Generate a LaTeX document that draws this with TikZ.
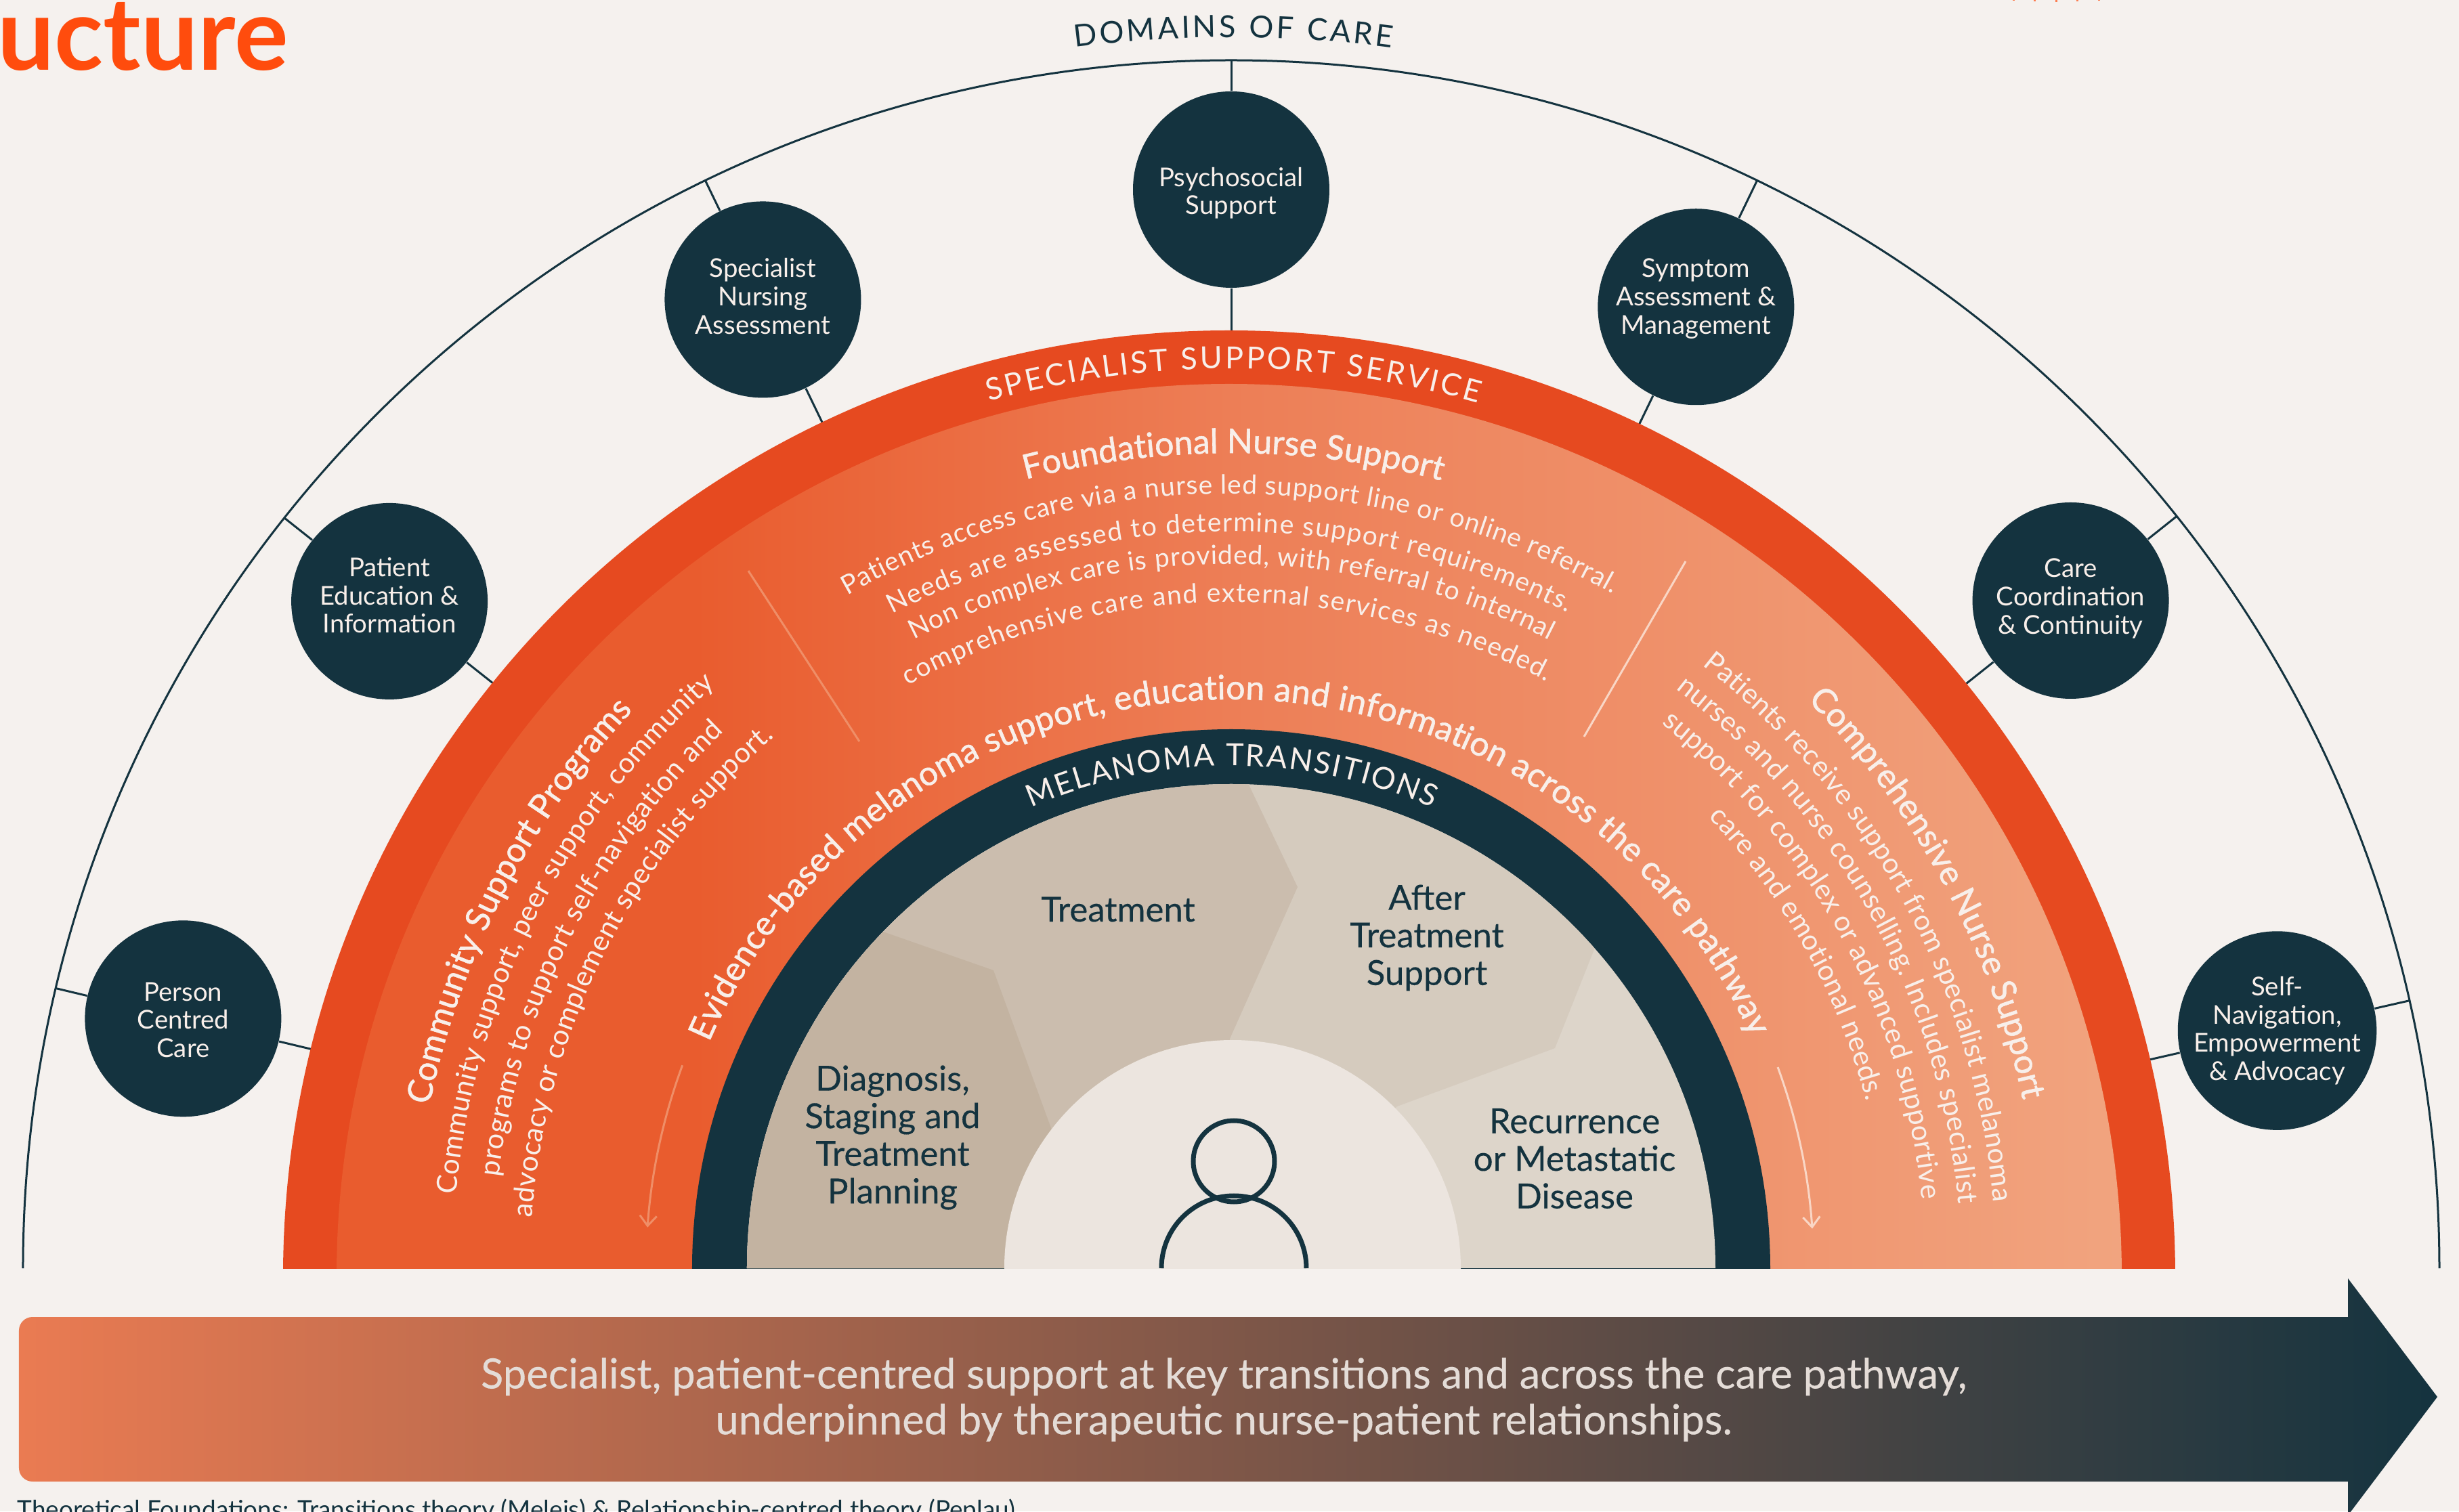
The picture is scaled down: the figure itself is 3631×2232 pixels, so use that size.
\documentclass[tikz,border=0pt]{standalone}
\usepackage{fontspec}
\setmainfont{Lato}
\newfontfamily\mediumfont[FakeBold=0.25]{Lato}
\newfontfamily\strongfont[FakeBold=1.2]{Lato}
\usetikzlibrary{arrows.meta,decorations.text}

\definecolor{paper}{HTML}{F5F1EE}
\definecolor{darkteal}{HTML}{14333F}
\definecolor{ringorange}{HTML}{E64A20}
\definecolor{bandleft}{HTML}{E95C2E}
\definecolor{bandmid}{HTML}{ED7E56}
\definecolor{bandright}{HTML}{F1A47F}
\definecolor{arrowleft}{HTML}{EA7B52}
\definecolor{arrowmid}{HTML}{AE674F}
\definecolor{titleorange}{HTML}{FF4C0D}
\definecolor{diagnosis}{HTML}{C3B3A1}
\definecolor{treatment}{HTML}{CBBDAE}
\definecolor{after}{HTML}{D5CBBE}
\definecolor{recurrence}{HTML}{DDD5CA}
\definecolor{person}{HTML}{ECE5DF}
\definecolor{lighttext}{HTML}{F8EFEA}

\pgfdeclarehorizontalshading{bandshade}{100bp}{color(0bp)=(bandleft); color(35bp)=(bandleft); color(50bp)=(bandmid); color(75bp)=(bandright); color(100bp)=(bandright)}

\tikzset{
  x=0.1mm, y=0.1mm,
  domainnode/.style={circle, fill=darkteal, text=lighttext, minimum size=29mm, inner sep=0pt,
    align=center, font=\fontsize{10.9}{11.9}\selectfont},
  ticklink/.style={draw=darkteal, line width=0.3mm},
  stagelabel/.style={text=darkteal, inner sep=0pt, align=center,
    font=\mediumfont\fontsize{14.5}{15.8}\selectfont},
  arcline/.style={decorate, decoration={text along path, text align={fit to path}, text color=lighttext}},
  darcline/.style={decorate, decoration={text along path, text align={fit to path}, text color=darkteal}},
  dividerline/.style={line width=0.3mm},
  flowarrow/.style={line width=0.3mm, -{Straight Barb[length=1.5mm,width=2.5mm]}},
}

% radius, start angle, end angle, font, text
\newcommand{\arcline}[5]{\path[arcline, decoration={text={|#4|#5}}] (#2:#1) arc[start angle=#2, end angle=#3, radius=#1];}
\newcommand{\dropline}[1]{\rule[-#1]{0pt}{#1}}
\newcommand{\capsfont}{\fontsize{12.8}{14}\selectfont}
\newcommand{\headfont}{\strongfont\fontsize{14.2}{16}\selectfont}
\newcommand{\smallfont}{\fontsize{11.1}{12}\selectfont}
\newcommand{\sidefont}{\fontsize{11.8}{12}\selectfont}

\begin{document}
\begin{tikzpicture}
  \useasboundingbox (-1818,-359) rectangle (1813,1873);
  \clip (-1818,-359) rectangle (1813,1873);
  \fill[paper] (-1818,-359) rectangle (1813,1873);

  \node[anchor=base west, inner sep=0pt, text=titleorange, font=\bfseries\fontsize{42.5}{44}\selectfont] (title) at (-1822,1769) {ucture};
  \foreach \dotx/\doth in {1154/1, 1185/2, 1217/3, 1248/2, 1280/1}
    \fill[titleorange!70!paper] (\dotx,1873) rectangle +(3,-\doth);

  \draw[darkteal, line width=0.3mm] (180:1784) arc[start angle=180, end angle=0, radius=1784];
  \path[darcline, decoration={text={|\capsfont|DOMAINS OF CARE}}] (97.3:1818) arc[start angle=97.3, end angle=82.5, radius=1818];

  \node[domainnode] (person) at (166.6:1591) {\rule{0pt}{9pt}Person\\Centred\\Care};
  \node[domainnode] (education) at (141.6:1586) {Patient\\Education \&\\Information\dropline{5pt}};
  \node[domainnode] (nursing) at (115.8:1589) {Specialist\\Nursing\\Assessment\dropline{3pt}};
  \node[domainnode] (psychosocial) at (90:1593) {\rule{0pt}{11pt}Psychosocial\\Support};
  \node[domainnode] (symptom) at (64.2:1577) {Symptom\\Assessment \&\\Management\dropline{9pt}};
  \node[domainnode] (coordination) at (38.5:1584) {Care\\Coordination\\\& Continuity\dropline{3.5pt}};
  \node[domainnode] (navigation) at (12.8:1584) {Self-\\Navigation,\\Empowerment\\\& Advocacy};

  \foreach \domainname/\domainangle in {person/166.6, education/141.6, nursing/115.8, psychosocial/90, symptom/64.2, coordination/38.5, navigation/12.8} {
    \coordinate (outer-\domainname) at (\domainangle:1784);
    \coordinate (inner-\domainname) at (\domainangle:1340);
    \draw[ticklink] (outer-\domainname) -- (\domainname);
    \draw[ticklink] (\domainname) -- (inner-\domainname);
  }

  \begin{scope}
    \clip (-1818,0) rectangle (1813,1873);
    \fill[ringorange] (-3,-12) circle[radius=1397];
    \shade[shading=bandshade] (-3,-12) circle[radius=1318];
    \fill[darkteal] (0,0) circle[radius=796];
    \clip (0,0) circle[radius=715];
    \fill[recurrence] (-800,0) rectangle (800,800);
    \fill[after] (-800,0) -- (-800,800) -- (667,800) -- (478,325) -- (245,239) -- (100,100) -- (100,0) -- cycle;
    \fill[treatment] (-800,0) -- (-800,800) -- (-15,800) -- (98,563) -- (-2,339) -- (-60,0) -- cycle;
    \fill[diagnosis] (-800,0) -- (-800,597) -- (-351,440) -- (-266,207) -- (-200,0) -- cycle;
    \fill[person] (2,0) circle[radius=337];
    \draw[darkteal, line width=0.7mm] (4,158) circle[radius=60];
    \draw[darkteal, line width=0.7mm] (-103,0) arc[start angle=180, end angle=0, radius=107];
  \end{scope}

  \arcline{1329}{105.6}{74.1}{\capsfont}{SPECIALIST SUPPORT SERVICE}
  \arcline{742}{113.5}{66.4}{\capsfont}{MELANOMA TRANSITIONS}

  \arcline{1204}{104.6}{75.1}{\headfont}{Foundational Nurse Support}
  \arcline{1144}{119.7}{60.6}{\smallfont}{Patients access care via a nurse led support line or online referral.}
  \arcline{1088}{117.4}{62.9}{\smallfont}{Needs are assessed to determine support requirements.}
  \arcline{1040}{116.8}{63.2}{\smallfont}{Non complex care is provided, with referral to internal}
  \arcline{984}{119}{61.8}{\smallfont}{comprehensive care and external services as needed.}

  \arcline{840}{156.6}{24}{\headfont}{Evidence-based melanoma support, education and information across the care pathway}

  \arcline{1208}{168.5}{137}{\headfont}{Community Support Programs}
  \arcline{1150}{174.6}{131.5}{\sidefont}{Community support, peer support, community}
  \arcline{1090}{172.9}{133.4}{\sidefont}{programs to support self-navigation and}
  \arcline{1035}{175.9}{130.7}{\sidefont}{advocacy or complement specialist support.}

  \arcline{1195}{44.6}{12}{\headfont}{Comprehensive Nurse Support}
  \arcline{1130}{52}{5}{\sidefont}{Patients receive support from specialist melanoma}
  \arcline{1078}{52.5}{5.1}{\sidefont}{nurses and nurse counselling. Includes specialist}
  \arcline{1025}{51.7}{5.7}{\sidefont}{support for complex or advanced supportive}
  \arcline{970}{43.4}{14.7}{\sidefont}{care and emotional needs.}

  \draw[dividerline, draw=bandright!70!bandleft] (-713,1030) -- (-549,778);
  \draw[dividerline, draw=bandright!45!white] (671,1044) -- (521,785);
  \draw[flowarrow, draw=bandright!70!bandleft] (159.7:864) arc[start angle=159.7, end angle=176, radius=864];
  \draw[flowarrow, draw=bandright!45!white] (20.2:860) arc[start angle=20.2, end angle=3.9, radius=860];

  \node[stagelabel] (diagnosisstage) at (-500,193) {Diagnosis,\\Staging and\\Treatment\\Planning};
  \node[stagelabel] (treatmentstage) at (-167,530) {Treatment};
  \node[stagelabel] (afterstage) at (289,488) {After\\Treatment\\Support};
  \node[stagelabel] (recurrencestage) at (507,162) {Recurrence\\or Metastatic\\Disease};

  \shade[left color=arrowleft, middle color=arrowmid, right color=darkteal]
    (1649,-72) -- (-1770,-72) arc[start angle=90, end angle=180, radius=20] -- (-1790,-295) arc[start angle=180, end angle=270, radius=20]
    -- (1649,-315) -- (1649,-365) -- (1781,-190) -- (1649,-15) -- cycle;
  \node[text=lighttext!92!black, align=center, inner sep=0pt, font=\mediumfont\fontsize{17.5}{19.3}\selectfont] (summary) at (-11,-194)
    {Specialist, patient-centred support at key transitions and across the care pathway,\\underpinned by therapeutic nurse-patient relationships.};

  \node[anchor=base west, inner sep=0pt, text=darkteal, font=\fontsize{10.5}{12}\selectfont] (foundations) at (-1793,-369)
    {Theoretical Foundations: Transitions theory (Meleis) \& Relationship-centred theory (Peplau)};
\end{tikzpicture}
\end{document}
